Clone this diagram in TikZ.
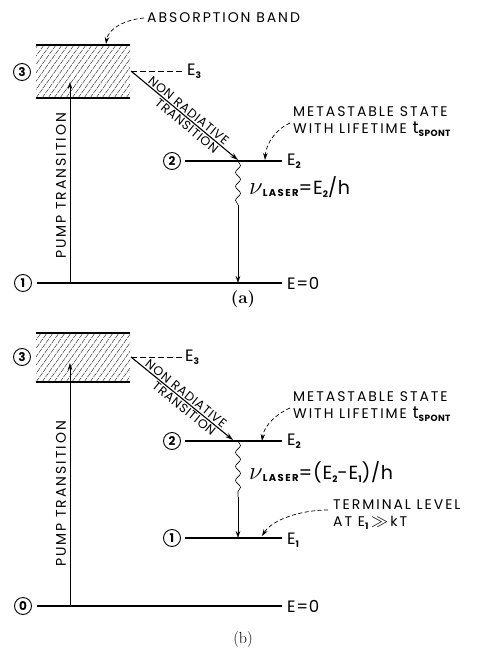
\documentclass[tikz,border=0pt]{standalone}
\usepackage{fontspec}
\newfontfamily\lbl{Poppins}[LetterSpace=14]
\newfontfamily\slbl{Poppins}[LetterSpace=6]
\newfontfamily\elbl{Poppins}[LetterSpace=4]
\usetikzlibrary{arrows.meta,decorations.pathmorphing}
\newcommand{\sub}[1]{\raisebox{-3pt}{\elbl\fontsize{9}{9}\selectfont\bfseries #1}}
\begin{document}
\begin{tikzpicture}[x=1pt,y=-1pt,
  lvl/.style={line width=1.6pt},
  hatch/.style={line width=0.35pt, dash pattern=on 5pt off 1pt},
  lab/.style={font=\lbl\fontsize{14}{15}\selectfont, inner sep=0pt, anchor=west},
  slab/.style={font=\slbl\fontsize{12.5}{13}\selectfont},
  elab/.style={font=\elbl\fontsize{16.5}{17}\selectfont, inner sep=0pt, anchor=west},
  numc/.style={circle, draw, line width=0.9pt, minimum size=17pt, inner sep=0pt, font=\elbl\bfseries\fontsize{12}{12}\selectfont},
  tip/.style={-{Stealth[length=7pt,width=4.5pt]}},
  thinl/.style={line width=0.5pt},
  nrad/.style={line width=1.1pt, -{Stealth[length=8pt,width=5pt]}},
  dsh/.style={dashed, dash pattern=on 4pt off 2.5pt, line width=0.7pt, -{Stealth[length=7pt,width=4.5pt]}},
  edash/.style={dash pattern=on 6pt off 3pt, line width=0.8pt},
  wave/.style={line width=0.6pt, decorate, decoration={snake, amplitude=2.5pt, segment length=14pt}},
  flab/.style={anchor=west, inner sep=0pt}
]
\useasboundingbox (0,0) rectangle (482,658);

% ================= (a) =================
\begin{scope}
\clip (36,45) rectangle (130,98);
\foreach \i in {-60,-54,...,140} \draw[hatch] (\i,98) -- ++(38,-53);
\end{scope}
\coordinate (a3tl) at (36,45); \coordinate (a3tr) at (130,45);
\coordinate (a3bl) at (36,98); \coordinate (a3br) at (130,98);
\draw[lvl] (a3tl) -- (a3tr);
\draw[lvl] (a3bl) -- (a3br);
\node[numc] (na3) at (22,72) {3};

\node[lab] (absb) at (147,18) {ABSORPTION BAND};
\coordinate (absend) at (106,44);
\draw[dsh] ([xshift=-3pt]absb.west) .. controls (122,20) and (108,30) .. (absend);

\coordinate (ae3) at (131,71);
\node[elab] (aE3) at (187,71) {E\sub{3}};
\draw[edash] (ae3) -- ([xshift=-3pt]aE3.west);

\node[numc] (na2) at (172,161) {2};
\coordinate (a2l) at (185,161); \coordinate (a2r) at (282,161);
\draw[lvl] (a2l) -- (a2r);
\node[elab] (aE2) at (287,161) {E\sub{2}};

\node[numc] (na1) at (23,283) {1};
\coordinate (a1l) at (37,283); \coordinate (a1r) at (282,283);
\draw[lvl] (a1l) -- (a1r);
\node[elab] (aE0) at (287,283) {E=0};

\coordinate (ap0) at (70,283); \coordinate (ap1) at (70,82);
\draw[thinl,tip] (ap0) -- (ap1);
\node[lab,rotate=90,anchor=center] (apl) at (61,186) {PUMP TRANSITION};

\coordinate (an1) at (238,160);
\draw[nrad] (ae3) -- node[slab,pos=0.5,rotate=-39.5,anchor=south,inner sep=1.5pt] {NON RADIATIVE}
  node[slab,pos=0.56,rotate=-39.5,anchor=north,inner sep=1.5pt] {TRANSITION} (an1);

\node[lab] (ams1) at (293,112) {METASTABLE STATE};
\node[lab] (ams2) at (293,129) {WITH LIFETIME {\fontsize{17}{17}\selectfont t}\sub{SPONT}};
\coordinate (amend) at (265,160);
\draw[dsh] (290,123) .. controls (278,128) and (266,142) .. (amend);

\coordinate (al0) at (238,161); \coordinate (al1) at (238,205); \coordinate (al2) at (238,283);
\draw[wave] (al0) -- (al1);
\draw[thinl,tip] (al1) -- (al2);
\node[flab] (aform) at (249,187) {{\fontsize{23}{23}\selectfont$\nu$}\raisebox{-2pt}{\lbl\fontsize{10}{10}\selectfont\bfseries LASER}{\elbl\fontsize{19}{19}\selectfont=E\sub{2}/h}};

\node[inner sep=0pt] (acap) at (243,299) {\fontsize{17}{17}\selectfont\textbf{(a)}};

% ================= (b) =================
\begin{scope}
\clip (36,333) rectangle (130,382);
\foreach \i in {-60,-54,...,140} \draw[hatch] (\i,382) -- ++(35,-49);
\end{scope}
\coordinate (b3tl) at (36,333); \coordinate (b3tr) at (130,333);
\coordinate (b3bl) at (36,382); \coordinate (b3br) at (130,382);
\draw[lvl] (b3tl) -- (b3tr);
\draw[lvl] (b3bl) -- (b3br);
\node[numc] (nb3) at (22,357) {3};

\coordinate (be3) at (131,357);
\node[elab] (bE3) at (185,357) {E\sub{3}};
\draw[edash] (be3) -- ([xshift=-3pt]bE3.west);

\node[numc] (nb2) at (172,441) {2};
\coordinate (b2l) at (185,441); \coordinate (b2r) at (282,441);
\draw[lvl] (b2l) -- (b2r);
\node[elab] (bE2) at (287,441) {E\sub{2}};

\node[numc] (nb1) at (172,538) {1};
\coordinate (b1l) at (185,538); \coordinate (b1r) at (282,538);
\draw[lvl] (b1l) -- (b1r);
\node[elab] (bE1) at (287,540) {E\sub{1}};

\node[numc] (nb0) at (23,606) {0};
\coordinate (b0l) at (37,606); \coordinate (b0r) at (282,606);
\draw[lvl] (b0l) -- (b0r);
\node[elab] (bE0) at (287,606) {E=0};

\coordinate (bp0) at (70,606); \coordinate (bp1) at (70,363);
\draw[thinl,tip] (bp0) -- (bp1);
\node[lab,rotate=90,anchor=center] (bpl) at (61,494) {PUMP TRANSITION};

\coordinate (bn1) at (233,440);
\draw[nrad] (be3) -- node[slab,pos=0.5,rotate=-38.9,anchor=south,inner sep=1.5pt] {NON RADIATIVE}
  node[slab,pos=0.56,rotate=-38.9,anchor=north,inner sep=1.5pt] {TRANSITION} (bn1);

\node[lab] (bms1) at (293,397) {METASTABLE STATE};
\node[lab] (bms2) at (293,414) {WITH LIFETIME {\fontsize{17}{17}\selectfont t}\sub{SPONT}};
\coordinate (bmend) at (262,441);
\draw[dsh] (290,408) .. controls (278,413) and (264,425) .. (bmend);

\coordinate (bl0) at (238,441); \coordinate (bl1) at (238,497); \coordinate (bl2) at (238,538);
\draw[wave] (bl0) -- (bl1);
\draw[thinl,tip] (bl1) -- (bl2);
\node[flab] (bform) at (249,472) {{\fontsize{23}{23}\selectfont$\nu$}\raisebox{-2pt}{\lbl\fontsize{10}{10}\selectfont\bfseries LASER}{\elbl\fontsize{19}{19}\selectfont=(E\sub{2}-E\sub{1})/h}};

\node[lab] (bt1) at (333,505) {TERMINAL LEVEL};
\node[lab] (bt2) at (333,523) {AT E\sub{1}\,{\fontsize{16}{16}\selectfont$\gg$}\,kT};
\coordinate (btend) at (262,536);
\draw[dsh] (328,510) .. controls (300,510) and (272,520) .. (btend);

\node[inner sep=0pt] (bcap) at (243,640) {\fontsize{16}{16}\selectfont (b)};
\end{tikzpicture}
\end{document}
